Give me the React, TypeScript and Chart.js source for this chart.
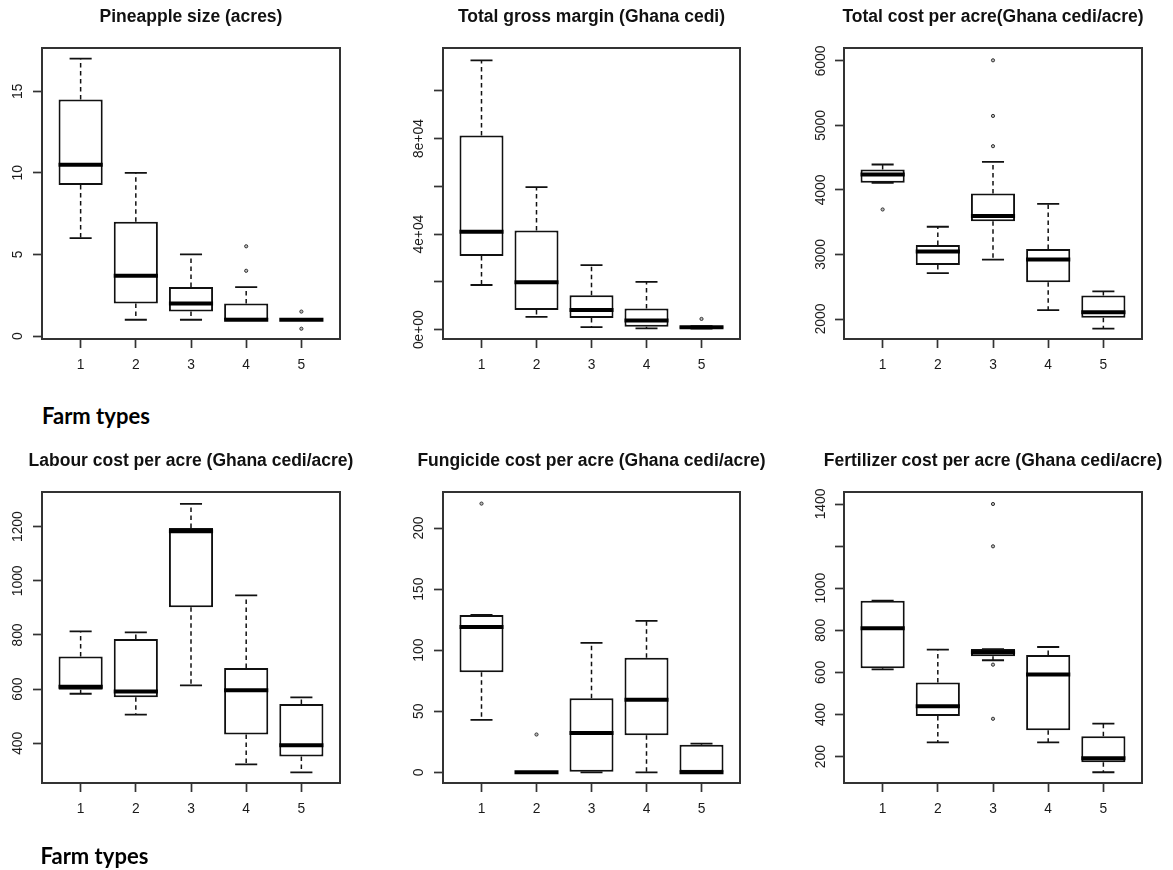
import React, { useEffect, useRef } from 'react';
import { Chart, registerables } from 'chart.js';

Chart.register(...registerables);

// ---------- data ----------
const farmTypes = ['1', '2', '3', '4', '5'];

// Pineapple size (acres)
const sizeMin = [6, 1, 1, 1, 1];
const sizeQ1 = [9.25, 2, 1.5, 1, 1];
const sizeMed = [10.5, 3.7, 2, 1, 1];
const sizeQ3 = [14.5, 7, 3, 2, 1];
const sizeMax = [17, 10, 5, 3, 1];
const sizeOutGroup = [4, 4, 5, 5];
const sizeOutValue = [5.5, 4, 1.5, 0.45];
const sizeTicks = [0, 5, 10, 15];
const sizeTickLabels = ['0', '5', '10', '15'];

// Total gross margin (Ghana cedi)
const marginMin = [18700, 5400, 1100, 560, 500];
const marginQ1 = [30800, 8200, 4900, 1250, 800];
const marginMed = [41000, 19900, 8200, 3800, 1000];
const marginQ3 = [81300, 41500, 14400, 8900, 1300];
const marginMax = [112700, 59700, 27000, 20000, 1500];
const marginOutGroup = [5];
const marginOutValue = [4500];
const marginTicks = [0, 20000, 40000, 60000, 80000, 100000];
const marginTickLabels = ['0e+00', '', '4e+04', '', '8e+04', ''];

// Total cost per acre
const totalMin = [4111, 2712, 2919, 2139, 1850];
const totalQ1 = [4111, 2836, 3517, 2568, 2021];
const totalMed = [4240, 3048, 3595, 2924, 2103];
const totalQ3 = [4317, 3146, 3946, 3084, 2366];
const totalMax = [4395, 3430, 4436, 3786, 2428];
const totalOutGroup = [1, 3, 3, 3];
const totalOutValue = [3698, 6010, 5148, 4679];
const totalTicks = [2000, 3000, 4000, 5000, 6000];
const totalTickLabels = ['2000', '3000', '4000', '5000', '6000'];

// Labour cost per acre
const labourMin = [583, 506, 614, 322, 293];
const labourQ1 = [598, 570, 902, 433, 351];
const labourMed = [609, 591, 1183, 596, 393];
const labourQ3 = [721, 785, 1195, 678, 545];
const labourMax = [813, 810, 1284, 946, 570];
const labourOutGroup: number[] = [];
const labourOutValue: number[] = [];
const labourTicks = [400, 600, 800, 1000, 1200];
const labourTickLabels = ['400', '600', '800', '1000', '1200'];

// Fungicide cost per acre
const fungMin = [43, 0, 0, 0, 0];
const fungQ1 = [82, 0, 0, 30.3, 0];
const fungMed = [119, 0, 32.2, 59.5, 0];
const fungQ3 = [128.8, 0, 60.6, 93.9, 22.6];
const fungMax = [128.8, 0, 106, 124, 23.5];
const fungOutGroup = [1, 2];
const fungOutValue = [220, 31];
const fungTicks = [0, 50, 100, 150, 200];
const fungTickLabels = ['0', '50', '100', '150', '200'];

// Fertilizer cost per acre
const fertMin = [615, 268, 658, 268, 126];
const fertQ1 = [620, 393, 677, 325, 173];
const fertMed = [810, 439, 696, 590, 192];
const fertQ3 = [941, 552, 711, 683, 297];
const fertMax = [941, 708, 711, 721, 357];
const fertOutGroup = [3, 3, 3, 3];
const fertOutValue = [1400, 1199, 637, 380];
const fertTicks = [200, 400, 600, 800, 1000, 1200, 1400];
const fertTickLabels = ['200', '400', '600', '800', '1000', '', '1400'];

type Panel = {
  title: string;
  min: number[]; q1: number[]; med: number[]; q3: number[]; max: number[];
  outGroup: number[]; outValue: number[];
  yMin: number; yMax: number;
  ticks: number[]; labels: string[];
};

const panels: Panel[] = [
  { title: 'Pineapple size (acres)', min: sizeMin, q1: sizeQ1, med: sizeMed, q3: sizeQ3, max: sizeMax, outGroup: sizeOutGroup, outValue: sizeOutValue, yMin: -0.18, yMax: 17.65, ticks: sizeTicks, labels: sizeTickLabels },
  { title: 'Total gross margin (Ghana cedi)', min: marginMin, q1: marginQ1, med: marginMed, q3: marginQ3, max: marginMax, outGroup: marginOutGroup, outValue: marginOutValue, yMin: -3900, yMax: 117900, ticks: marginTicks, labels: marginTickLabels },
  { title: 'Total cost per acre(Ghana cedi/acre)', min: totalMin, q1: totalQ1, med: totalMed, q3: totalQ3, max: totalMax, outGroup: totalOutGroup, outValue: totalOutValue, yMin: 1690, yMax: 6201, ticks: totalTicks, labels: totalTickLabels },
  { title: 'Labour cost per acre (Ghana cedi/acre)', min: labourMin, q1: labourQ1, med: labourMed, q3: labourQ3, max: labourMax, outGroup: labourOutGroup, outValue: labourOutValue, yMin: 253.5, yMax: 1328, ticks: labourTicks, labels: labourTickLabels },
  { title: 'Fungicide cost per acre (Ghana cedi/acre)', min: fungMin, q1: fungQ1, med: fungMed, q3: fungQ3, max: fungMax, outGroup: fungOutGroup, outValue: fungOutValue, yMin: -8.7, yMax: 229.5, ticks: fungTicks, labels: fungTickLabels },
  { title: 'Fertilizer cost per acre (Ghana cedi/acre)', min: fertMin, q1: fertQ1, med: fertMed, q3: fertQ3, max: fertMax, outGroup: fertOutGroup, outValue: fertOutValue, yMin: 75, yMax: 1457, ticks: fertTicks, labels: fertTickLabels },
];

// ---------- layout ----------
const FONT = '"Liberation Sans", Arial, Helvetica, sans-serif';
const TICK_SIZE = 13.8;
const TICK_LEN = 9;
const COL_LEFT = [0, 390, 780];
const AXIS_W = [42, 53, 64];
const PLOT_W = [298, 297, 298];
const LABEL_DIST = [24, 24, 23];
const ROW_TOP = [0, 444];
const CANVAS_H = 400;
const X_AXIS_H = 61;

function boxPlugin(p: Panel) {
  return {
    id: 'boxWhiskers',
    beforeDatasetsDraw(chart: any) {
      const { ctx } = chart;
      const x = chart.scales.x;
      const y = chart.scales.y;
      const meta = chart.getDatasetMeta(0);
      ctx.save();
      ctx.strokeStyle = '#111';
      p.med.forEach((_m, i) => {
        const cx = x.getPixelForValue(i + 1);
        const half = (meta.data[i] as any).width / 2;
        const cap = half / 2;
        ctx.lineWidth = 1.5;
        ctx.setLineDash([4.5, 3.5]);
        ctx.beginPath();
        ctx.moveTo(cx, y.getPixelForValue(p.q3[i]));
        ctx.lineTo(cx, y.getPixelForValue(p.max[i]));
        ctx.moveTo(cx, y.getPixelForValue(p.q1[i]));
        ctx.lineTo(cx, y.getPixelForValue(p.min[i]));
        ctx.stroke();
        ctx.setLineDash([]);
        ctx.lineWidth = 1.8;
        ctx.beginPath();
        ctx.moveTo(cx - cap, y.getPixelForValue(p.max[i]));
        ctx.lineTo(cx + cap, y.getPixelForValue(p.max[i]));
        ctx.moveTo(cx - cap, y.getPixelForValue(p.min[i]));
        ctx.lineTo(cx + cap, y.getPixelForValue(p.min[i]));
        ctx.stroke();
      });
      ctx.restore();
    },
    afterDatasetsDraw(chart: any) {
      const { ctx } = chart;
      const x = chart.scales.x;
      const y = chart.scales.y;
      const meta = chart.getDatasetMeta(0);
      ctx.save();
      ctx.strokeStyle = '#000';
      ctx.lineWidth = 4;
      p.med.forEach((m, i) => {
        const cx = x.getPixelForValue(i + 1);
        const half = (meta.data[i] as any).width / 2;
        const py = y.getPixelForValue(m);
        ctx.beginPath();
        ctx.moveTo(cx - half, py);
        ctx.lineTo(cx + half, py);
        ctx.stroke();
      });
      ctx.restore();
    },
    afterDraw(chart: any) {
      const { ctx, chartArea: a } = chart;
      ctx.save();
      ctx.strokeStyle = '#333';
      ctx.lineWidth = 2;
      ctx.strokeRect(a.left, a.top, a.right - a.left, a.bottom - a.top);
      ctx.restore();
    },
  };
}

function BoxPanel({ p, col, row }: { p: Panel; col: number; row: number }) {
  const ref = useRef<HTMLCanvasElement>(null);
  const width = 2 * AXIS_W[col] + PLOT_W[col];
  useEffect(() => {
    const canvas = ref.current!;
    const m = document.createElement('canvas').getContext('2d')!;
    m.font = `${TICK_SIZE}px ${FONT}`;
    const widest = Math.max(...p.labels.map((l) => m.measureText(l).width));
    const yPad = LABEL_DIST[col] - TICK_LEN - widest / 2;
    const tickFont = { family: FONT, size: TICK_SIZE };
    const grid = { drawOnChartArea: false, drawTicks: true, tickLength: TICK_LEN, tickWidth: 1.7, tickColor: '#333', offset: false };

    const chart = new Chart(canvas, {
      type: 'bar',
      data: {
        datasets: [
          {
            type: 'bar',
            data: farmTypes.map((_, i) => ({ x: i + 1, y: [p.q1[i], p.q3[i]] })),
            backgroundColor: '#ffffff',
            borderColor: '#111',
            borderWidth: 2,
            borderSkipped: false,
            categoryPercentage: 1,
            barPercentage: 0.8,
          } as any,
          {
            type: 'scatter',
            data: p.outGroup.map((g, i) => ({ x: g, y: p.outValue[i] })),
            pointStyle: 'circle',
            pointRadius: 1.6,
            pointBorderWidth: 1,
            pointBorderColor: '#333',
            pointBackgroundColor: '#bbbbbb',
          } as any,
        ],
      },
      options: {
        responsive: false,
        animation: false,
        events: [],
        layout: { padding: 0 },
        plugins: {
          legend: { display: false },
          tooltip: { enabled: false },
          title: {
            display: true,
            text: p.title,
            fullSize: true,
            color: '#111',
            font: { family: FONT, size: 17.5, weight: 'bold' },
            padding: { top: 7, bottom: 20 },
          },
        },
        scales: {
          x: {
            type: 'linear',
            position: 'bottom',
            min: 0.3,
            max: 5.7,
            offset: false,
            afterFit: (s: any) => { s.height = X_AXIS_H; },
            afterBuildTicks: (s: any) => { s.ticks = farmTypes.map((_, i) => ({ value: i + 1 })); },
            grid,
            border: { display: false },
            ticks: {
              autoSkip: false,
              maxRotation: 0,
              padding: 8.5,
              color: '#1a1a1a',
              font: tickFont,
              callback: (_v: any, i: number) => farmTypes[i],
            },
          },
          y: {
            type: 'linear',
            position: 'left',
            min: p.yMin,
            max: p.yMax,
            afterFit: (s: any) => { s.width = AXIS_W[col]; },
            afterBuildTicks: (s: any) => { s.ticks = p.ticks.map((v) => ({ value: v })); },
            grid,
            border: { display: false },
            ticks: {
              autoSkip: false,
              minRotation: 90,
              maxRotation: 90,
              crossAlign: 'center',
              padding: yPad,
              color: '#1a1a1a',
              font: tickFont,
              callback: (_v: any, i: number) => p.labels[i],
            },
          },
          spacer: {
            type: 'linear',
            position: 'right',
            display: true,
            afterFit: (s: any) => { s.width = AXIS_W[col]; },
            grid: { display: false, drawTicks: false },
            border: { display: false },
            ticks: { display: false },
          },
        },
      } as any,
      plugins: [boxPlugin(p)],
    });
    return () => chart.destroy();
  }, [p, col, row]);

  return (
    <canvas
      ref={ref}
      width={width}
      height={CANVAS_H}
      style={{ position: 'absolute', left: COL_LEFT[col], top: ROW_TOP[row], width, height: CANVAS_H }}
    />
  );
}

const farmLabelStyle: React.CSSProperties = {
  position: 'absolute',
  fontFamily: 'Lato, "Open Sans", sans-serif',
  fontWeight: 700,
  fontSize: 22,
  lineHeight: '22px',
  color: '#000',
  whiteSpace: 'nowrap',
};

export default function App() {
  return (
    <div style={{ position: 'absolute', left: 0, top: 0, width: 1173, height: 870, background: '#fff', overflow: 'hidden' }}>
      {panels.map((p, i) => (
        <BoxPanel key={i} p={p} col={i % 3} row={Math.floor(i / 3)} />
      ))}
      <div style={{ ...farmLabelStyle, left: 42, top: 404.5 }}>Farm types</div>
      <div style={{ ...farmLabelStyle, left: 40.5, top: 844.5 }}>Farm types</div>
    </div>
  );
}
